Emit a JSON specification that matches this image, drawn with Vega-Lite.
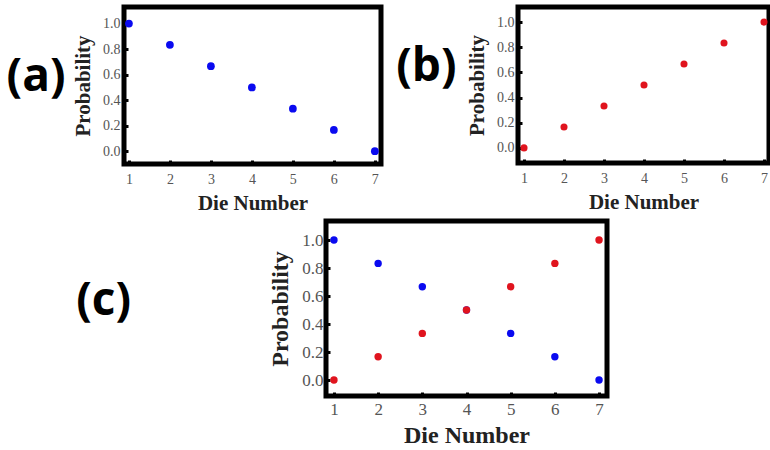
{
  "$schema": "https://vega.github.io/schema/vega-lite/v6.json",
  "background": "white",
  "padding": {"left": 4, "top": 4, "right": 0, "bottom": 0},
  "datasets": {
    "a": [
      {"die": 1, "p": 1.0}, {"die": 2, "p": 0.8333}, {"die": 3, "p": 0.6667},
      {"die": 4, "p": 0.5}, {"die": 5, "p": 0.3333}, {"die": 6, "p": 0.1667}, {"die": 7, "p": 0.0}
    ],
    "b": [
      {"die": 1, "p": 0.0}, {"die": 2, "p": 0.1667}, {"die": 3, "p": 0.3333},
      {"die": 4, "p": 0.5}, {"die": 5, "p": 0.6667}, {"die": 6, "p": 0.8333}, {"die": 7, "p": 1.0}
    ],
    "c": [
      {"die": 1, "p": 1.0, "s": "decreasing"}, {"die": 2, "p": 0.8333, "s": "decreasing"},
      {"die": 3, "p": 0.6667, "s": "decreasing"}, {"die": 4, "p": 0.5, "s": "decreasing"},
      {"die": 5, "p": 0.3333, "s": "decreasing"}, {"die": 6, "p": 0.1667, "s": "decreasing"},
      {"die": 7, "p": 0.0, "s": "decreasing"},
      {"die": 1, "p": 0.0, "s": "increasing"}, {"die": 2, "p": 0.1667, "s": "increasing"},
      {"die": 3, "p": 0.3333, "s": "increasing"}, {"die": 4, "p": 0.5, "s": "increasing"},
      {"die": 5, "p": 0.6667, "s": "increasing"}, {"die": 6, "p": 0.8333, "s": "increasing"},
      {"die": 7, "p": 1.0, "s": "increasing"}
    ]
  },
  "config": {
    "view": {"stroke": "black", "strokeWidth": 5},
    "axis": {
      "grid": false, "domain": false, "ticks": true, "tickSize": -4, "tickWidth": 3, "tickColor": "black",
      "labelFont": "Liberation Serif", "labelFontSize": 14, "labelColor": "#555555",
      "titleFont": "Liberation Serif", "titleFontSize": 21, "titleFontWeight": "bold", "titleColor": "#222222"
    },
    "axisX": {"labelPadding": 12, "titlePadding": 6},
    "axisY": {"labelPadding": 8, "titlePadding": 9},
    "title": {"font": "Open Sans", "fontWeight": "bold", "fontSize": 46, "color": "black"}
  },
  "spacing": 2,
  "vconcat": [
    {
      "spacing": 9,
      "hconcat": [
        {
          "width": 257, "height": 157,
          "title": {"text": "(a)", "orient": "left", "angle": 0, "align": "left", "baseline": "middle", "offset": 7, "dy": -9},
          "data": {"name": "a"},
          "mark": {"type": "point", "filled": true, "size": 60, "opacity": 1, "color": "#0a0af0"},
          "encoding": {
            "x": {"field": "die", "type": "quantitative", "title": "Die Number",
                  "scale": {"domain": [0.88, 7.15], "nice": false, "zero": false},
                  "axis": {"values": [1, 2, 3, 4, 5, 6, 7], "format": "d"}},
            "y": {"field": "p", "type": "quantitative", "title": "Probability",
                  "scale": {"domain": [-0.1, 1.13], "nice": false, "zero": false},
                  "axis": {"values": [0, 0.2, 0.4, 0.6, 0.8, 1.0], "format": ".1f"}}
          }
        },
        {
          "width": 251, "height": 156,
          "title": {"text": "(b)", "orient": "left", "angle": 0, "align": "left", "baseline": "middle", "offset": 10, "dy": -18},
          "data": {"name": "b"},
          "mark": {"type": "point", "filled": true, "size": 50, "opacity": 1, "color": "#e0141e"},
          "encoding": {
            "x": {"field": "die", "type": "quantitative", "title": "Die Number",
                  "scale": {"domain": [0.85, 7.125], "nice": false, "zero": false},
                  "axis": {"values": [1, 2, 3, 4, 5, 6, 7], "format": "d"}},
            "y": {"field": "p", "type": "quantitative", "title": "Probability",
                  "scale": {"domain": [-0.12, 1.12], "nice": false, "zero": false},
                  "axis": {"values": [0, 0.2, 0.4, 0.6, 0.8, 1.0], "format": ".1f"}}
          }
        }
      ]
    },
    {
      "spacing": 0,
      "hconcat": [
        {
          "width": 142, "height": 175,
          "view": {"stroke": null},
          "title": {"text": "(c)", "orient": "left", "angle": 0, "align": "left", "baseline": "middle", "offset": -7, "dy": -8},
          "data": {"values": []},
          "mark": "point",
          "encoding": {}
        },
        {
          "width": 281, "height": 175,
          "data": {"name": "c"},
          "mark": {"type": "point", "filled": true, "size": 55, "opacity": 1},
          "encoding": {
            "x": {"field": "die", "type": "quantitative", "title": "Die Number",
                  "scale": {"domain": [0.82, 7.18], "nice": false, "zero": false},
                  "axis": {"values": [1, 2, 3, 4, 5, 6, 7], "format": "d", "labelFontSize": 17, "titleFontSize": 24, "labelPadding": 9}},
            "y": {"field": "p", "type": "quantitative", "title": "Probability",
                  "scale": {"domain": [-0.114, 1.136], "nice": false, "zero": false},
                  "axis": {"values": [0, 0.2, 0.4, 0.6, 0.8, 1.0], "format": ".1f", "labelFontSize": 17, "titleFontSize": 24, "labelPadding": 7}},
            "color": {"field": "s", "type": "nominal", "legend": null,
                      "scale": {"domain": ["decreasing", "increasing"], "range": ["#0a0af0", "#e0141e"]}}
          }
        }
      ]
    }
  ]
}
